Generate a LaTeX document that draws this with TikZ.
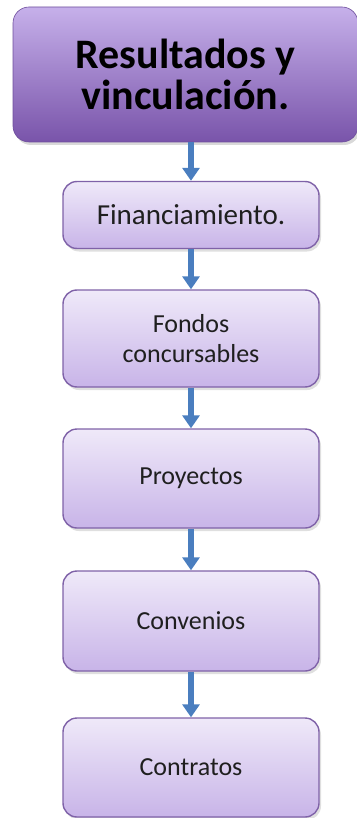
\documentclass[tikz,border=0pt]{standalone}
\usepackage{fontspec}
\setmainfont{Carlito}
\usepackage{xcolor}
\usetikzlibrary{shadows}
\usetikzlibrary{positioning}
\usetikzlibrary{arrows.meta}

\definecolor{headtop}{HTML}{C6B0EA}
\definecolor{headbot}{HTML}{7954AA}
\definecolor{headline}{HTML}{6E4E9C}
\definecolor{steptop}{HTML}{EFE9F9}
\definecolor{stepbot}{HTML}{C8B4E8}
\definecolor{stepline}{HTML}{7F62A8}
\definecolor{flowblue}{HTML}{4A7EBF}

\tikzset{
  headbox/.style={rounded corners=16pt, draw=headline, line width=0.6pt,
    top color=headtop, bottom color=headbot,
    drop shadow={opacity=0.3, shadow xshift=2pt, shadow yshift=-3pt},
    font=\bfseries\fontsize{42}{41}\selectfont, align=center, inner sep=0pt},
  stepbox/.style={rounded corners=14pt, draw=stepline, line width=1.4pt,
    top color=steptop, bottom color=stepbot,
    drop shadow={opacity=0.25, shadow xshift=2pt, shadow yshift=-3pt},
    text=black!88, align=center, minimum width=256, inner sep=0pt},
  flow/.style={draw=flowblue, line width=5.5pt, -{Triangle[width=17pt,length=13pt]}}
}

\begin{document}
\begin{tikzpicture}[x=1pt, y=-1pt]
\useasboundingbox (0,0) rectangle (356,818);

%head
	\node[headbox, minimum width=345, minimum height=135] (head) at (185.5,74.5) {Resultados y\\vinculaci\'on.};

%steps
	\foreach \name/\y/\h/\sz/\txt in {fin/215/67/29/Financiamiento., fon/338.5/97/26/{Fondos\\concursables}, pro/478.5/99/26/Proyectos, con/621/100/26/Convenios, ctr/767.5/99/26/Contratos}{
		\node[stepbox, minimum height=\h, font=\fontsize{\sz}{30}\selectfont] (\name) at (191,\y) {\txt};
	}

%arrows
	\draw[flow] (head.south -| fin.north) -- (fin.north);
	\foreach \a/\b in {fin/fon, fon/pro, pro/con, con/ctr}{
		\draw[flow] (\a) -- (\b);
	}

\end{tikzpicture}
\end{document}
